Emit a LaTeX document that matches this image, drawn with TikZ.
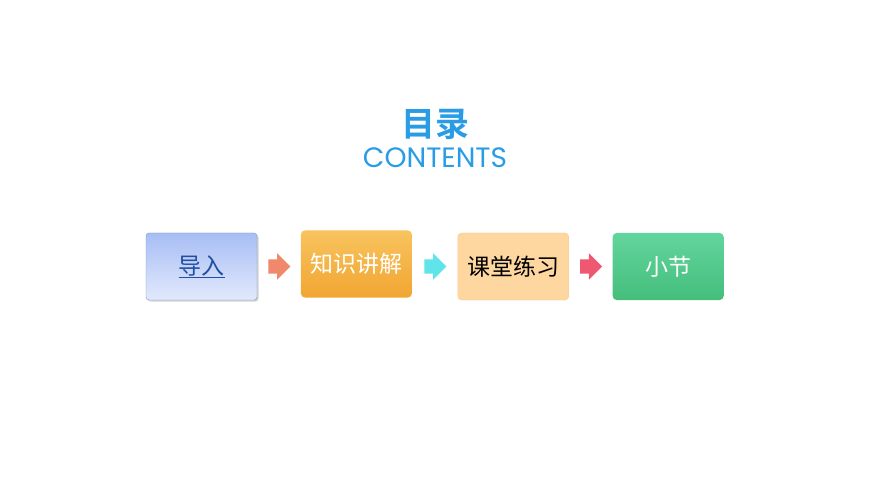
\documentclass[tikz,border=0pt]{standalone}
\usepackage{fontspec}
\setmainfont{Poppins}
\newfontfamily\cjk{Noto Sans CJK SC}
\newfontfamily\cjkbold{Noto Sans CJK SC Bold}
\usetikzlibrary{positioning,shapes.arrows,shadows}
\begin{document}
\begin{tikzpicture}[x=1pt,y=-1pt]
  % Colors
  \definecolor{titlecolor}{HTML}{2A9CE6}
  \definecolor{introcolor}{HTML}{1F4EA3}
  \definecolor{introtop}{HTML}{A7BDF4}
  \definecolor{introbottom}{HTML}{E2E9FC}
  \definecolor{introborder}{HTML}{8197CF}
  \definecolor{lecturetop}{HTML}{F8C35E}
  \definecolor{lecturebottom}{HTML}{F1A632}
  \definecolor{practicecolor}{HTML}{FDD6A0}
  \definecolor{practiceborder}{HTML}{F7CB8E}
  \definecolor{summarytop}{HTML}{62D59E}
  \definecolor{summarybottom}{HTML}{45BE7B}
  \definecolor{arrowone}{HTML}{F0886C}
  \definecolor{arrowtwo}{HTML}{5EE4E9}
  \definecolor{arrowthree}{HTML}{EE5870}

  % Styles
  \tikzstyle{step box}=[minimum width=111pt,minimum height=67pt,
    rounded corners=4pt,inner sep=0pt,font=\cjk\fontsize{23}{23}\selectfont]
  \tikzstyle{block arrow}=[single arrow,draw=none,inner xsep=0pt,inner ysep=7pt,
    minimum height=22pt,single arrow head extend=6pt]

  % The graphic
  \useasboundingbox[fill=white] (0,0) rectangle (870,489);

  \node[text=titlecolor,font=\cjkbold\fontsize{34}{34}\selectfont] (title) at (435,124) {目录};
  \node[text=titlecolor,font=\fontsize{28}{28}\selectfont,below=1pt of title] (contents) {CONTENTS};

  \node[step box,top color=introtop,bottom color=introbottom,draw=introborder,
    rounded corners=3pt,drop shadow={shadow xshift=1.5pt,shadow yshift=-1.5pt,opacity=.35},
    text=introcolor] (intro) at (201.5,266.5) {\underline{导入}};
  \node[block arrow,fill=arrowone,right=11pt of intro] (arrow1) {};

  \node[step box,top color=lecturetop,bottom color=lecturebottom,
    text=white,right=10pt of arrow1,yshift=2.5pt] (lecture) {知识讲解};
  \node[block arrow,fill=arrowtwo,right=12pt of lecture,yshift=-2.5pt] (arrow2) {};

  \node[step box,fill=practicecolor,draw=practiceborder,
    text=black,right=11pt of arrow2] (practice) {课堂练习};
  \node[block arrow,fill=arrowthree,right=11pt of practice] (arrow3) {};

  \node[step box,top color=summarytop,bottom color=summarybottom,
    text=white,right=10pt of arrow3] (summary) {小节};
\end{tikzpicture}
\end{document}
